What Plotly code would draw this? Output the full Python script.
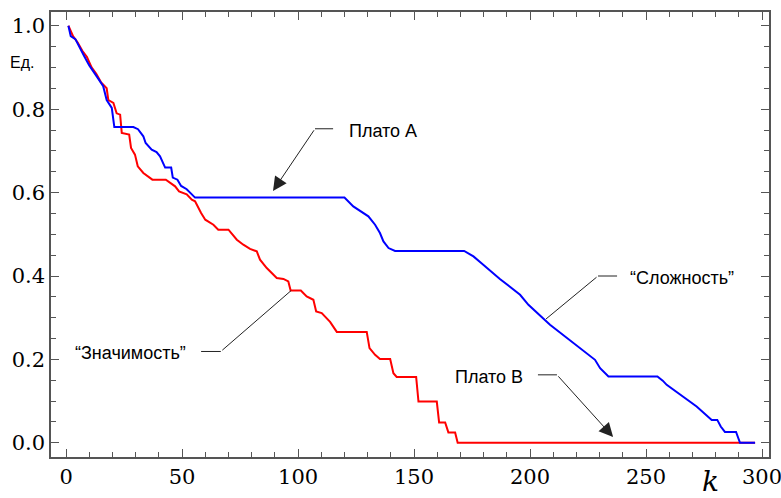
import plotly.graph_objects as go

# "Сложность" (blue)
k_slozh = [1, 2, 4, 6, 8, 10, 12, 14, 16, 17.5, 19.7, 20.8, 29, 31, 33.3, 34.3, 36.9, 39, 40.5,
           42.7, 45.3, 46, 48, 49.6, 52, 54.2, 55.6, 120, 123.8, 130.3, 133.2, 135.3, 136.8, 139,
           141.8, 171.6, 175.6, 179.2, 182.8, 187, 195.7, 199.3, 208.6, 215.8, 228, 230.2, 233.8,
           254.9, 257.2, 258.9, 271.8, 278.3, 280.7, 282.2, 284, 288.8, 290.5, 297]
v_slozh = [1.0, 0.975, 0.968, 0.945, 0.925, 0.905, 0.89, 0.872, 0.855, 0.822, 0.803, 0.757, 0.757,
           0.752, 0.735, 0.719, 0.703, 0.697, 0.687, 0.66, 0.66, 0.636, 0.631, 0.616, 0.608, 0.595,
           0.588, 0.588, 0.567, 0.543, 0.523, 0.503, 0.483, 0.467, 0.46, 0.46, 0.447, 0.43, 0.413,
           0.393, 0.355, 0.331, 0.283, 0.251, 0.199, 0.179, 0.159, 0.159, 0.149, 0.139, 0.087,
           0.055, 0.055, 0.039, 0.026, 0.026, 0.0, 0.0]

# "Значимость" (red)
k_znach = [1, 3, 5, 7, 9, 11, 13, 15, 17.5, 18.2, 20.4, 21.8, 23.3, 24, 27.2, 28, 29.7, 30.9, 33.3,
           35.5, 37.2, 43, 44.8, 47, 48.7, 52, 54.2, 55.6, 58.2, 60, 63.5, 65.6, 70, 73.6, 76.4,
           79.3, 82.2, 83.6, 86.5, 89.4, 90.8, 93.7, 95.8, 96.8, 101.2, 103.7, 106.6, 107.8, 110.2,
           113.8, 116.7, 129.6, 130.8, 133.2, 135.3, 139.7, 141.1, 142.5, 150.9, 151.9, 159.8,
           160.8, 163.4, 164.8, 167.7, 168.8, 297]
v_znach = [1.0, 0.975, 0.96, 0.94, 0.925, 0.9, 0.885, 0.865, 0.85, 0.822, 0.815, 0.79, 0.787, 0.743,
           0.739, 0.707, 0.691, 0.663, 0.647, 0.639, 0.631, 0.631, 0.623, 0.615, 0.603, 0.596,
           0.583, 0.579, 0.551, 0.535, 0.523, 0.511, 0.511, 0.487, 0.475, 0.465, 0.459, 0.439,
           0.419, 0.403, 0.395, 0.393, 0.387, 0.365, 0.365, 0.351, 0.343, 0.315, 0.311, 0.29,
           0.266, 0.266, 0.227, 0.211, 0.201, 0.201, 0.167, 0.158, 0.158, 0.099, 0.099, 0.049,
           0.049, 0.025, 0.025, 0.0, 0.0]

x_ticks = [0, 50, 100, 150, 200, 250, 300]
y_ticks = [0.0, 0.2, 0.4, 0.6, 0.8, 1.0]
y_tick_text = ["0.0", "0.2", "0.4", "0.6", "0.8", "1.0"]

fig = go.Figure()
fig.add_trace(go.Scatter(x=k_znach, y=v_znach, mode="lines",
                         line=dict(color="#ff0000", width=2), name="Значимость"))
fig.add_trace(go.Scatter(x=k_slozh, y=v_slozh, mode="lines",
                         line=dict(color="#0000ff", width=2), name="Сложность"))

serif = "DejaVu Serif"
sans = "Liberation Sans"
frame = "#555555"

fig.update_xaxes(range=[-6.5, 303], tickvals=x_ticks, ticks="inside", ticklen=8, tickwidth=1,
                 tickcolor=frame, showline=True, linecolor=frame, linewidth=1.5, mirror="ticks",
                 showgrid=False, zeroline=False, automargin=False, ticklabeloverflow="allow",
                 tickfont=dict(family=serif, size=21, color="#000"),
                 minor=dict(dtick=10, ticks="inside", ticklen=5, tickcolor=frame, showgrid=False))
fig.update_yaxes(range=[-0.034, 1.033], tickvals=y_ticks, ticktext=y_tick_text, ticks="inside",
                 ticklen=8, tickwidth=1, tickcolor=frame, showline=True, linecolor=frame,
                 linewidth=1.5, mirror="ticks", showgrid=False, zeroline=False, automargin=False,
                 ticklabeloverflow="allow",
                 tickfont=dict(family=serif, size=21, color="#000"),
                 minor=dict(dtick=0.05, ticks="inside", ticklen=5, tickcolor=frame, showgrid=False))

line_col = "#222222"
# horizontal leader segments
segs = [
    (107.3, 115.1, 0.753),   # Плато А
    (229.3, 237.5, 0.40),    # Сложность
    (203.4, 211.6, 0.163),   # Плато В
    (58.2, 66.7, 0.219),     # Значимость
]
for x0, x1, yy in segs:
    fig.add_shape(type="line", xref="x", yref="y", x0=x0, x1=x1, y0=yy, y1=yy,
                  line=dict(color=line_col, width=1))

arrows = [
    # tip x, tip y, tail x, tail y, head
    (89.2, 0.604, 107.3, 0.753, 2),
    (206.9, 0.297, 229.3, 0.40, 0),
    (235.8, 0.014, 211.6, 0.163, 2),
    (97.0, 0.365, 66.7, 0.219, 0),
]
for tx, ty, sx, sy, head in arrows:
    fig.add_annotation(x=tx, y=ty, ax=sx, ay=sy, xref="x", yref="y", axref="x", ayref="y",
                       text="", showarrow=True, arrowhead=head, arrowsize=2.8 if head else 1,
                       arrowwidth=1, arrowcolor=line_col, standoff=0, startstandoff=0)

labels = [
    ("Плато А", 347, 131),
    ("“Сложность”", 628, 278),
    ("Плато В", 453, 377),
    ("“Значимость”", 73, 353),
]
W, H = 781, 498
L, R, T, B = 51, 12, 12, 41
pw, ph = W - L - R, H - T - B
for txt, px, py in labels:
    fig.add_annotation(x=(px - L) / pw, y=1 - (py - T) / ph, xref="paper", yref="paper",
                       text=txt, showarrow=False, xanchor="left", yanchor="middle",
                       font=dict(family=sans, size=18, color="#000"))

fig.add_annotation(x=(8 - L) / pw, y=1 - (62 - T) / ph, xref="paper", yref="paper",
                   text="Ед.", showarrow=False, xanchor="left", yanchor="middle",
                   font=dict(family=sans, size=16, color="#000"))
fig.add_annotation(x=(710 - L) / pw, y=1 - (481 - T) / ph, xref="paper", yref="paper",
                   text="<i>k</i>", showarrow=False, xanchor="center", yanchor="middle",
                   font=dict(family=serif, size=28, color="#000"))

fig.update_layout(width=W, height=H, margin=dict(l=L, r=R, t=T, b=B, autoexpand=False),
                  paper_bgcolor="white", plot_bgcolor="white", showlegend=False)

fig.write_html("out.html")
